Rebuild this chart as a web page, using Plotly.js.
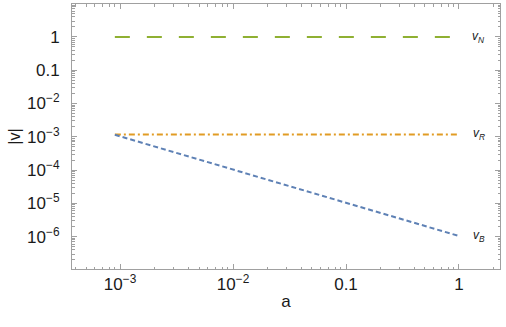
<!DOCTYPE html>
<html>
<head>
<meta charset="utf-8">
<script src="https://cdn.plot.ly/plotly-3.0.1.min.js"></script>
<style>
  html, body { margin: 0; padding: 0; background: #fff; }
  #myDiv { width: 506px; height: 327px; }
</style>
</head>
<body>
<div id="myDiv"></div>
<script>
// values
var aVals = [0.0009, 1];
var vN = [1, 1];
var vR = [0.00118, 0.00118];
var vB = [0.00115, 0.00000105];

var labelA = 1.5;
var labelN = 1;
var labelR = 0.00118;
var labelB = 0.00000105;

function pow10(e) {
  return '10<sup>\u2212' + e + '</sup>';
}

var xTickVals = [0.001, 0.01, 0.1, 1];
var xTickText = [pow10(3), pow10(2), '0.1', '1'];
var yTickVals = [1, 0.1, 0.01, 0.001, 0.0001, 0.00001, 0.000001];
var yTickText = ['1', '0.1', pow10(2), pow10(3), pow10(4), pow10(5), pow10(6)];

function minorVals(lo, hi) {
  var out = [];
  for (var e = lo; e <= hi; e++) {
    for (var m = 2; m <= 9; m++) out.push(m * Math.pow(10, e));
  }
  return out;
}

var trace1 = {
  x: aVals, y: vN, mode: 'lines', name: 'vN',
  line: { color: '#8fb032', width: 2, dash: '15px,17px' }
};
var trace2 = {
  x: aVals, y: vR, mode: 'lines', name: 'vR',
  line: { color: '#e19c24', width: 2, dash: '6px,3px,2px,3px' }
};
var trace3 = {
  x: aVals, y: vB, mode: 'lines', name: 'vB',
  line: { color: '#5e81b5', width: 2, dash: '5px,3px' }
};

var data = [trace1, trace2, trace3];

var font = 'Liberation Sans, Arial, sans-serif';

var axisCommon = {
  type: 'log',
  showgrid: false,
  zeroline: false,
  showline: true,
  linecolor: '#a0a0a0',
  linewidth: 1,
  mirror: 'allticks',
  ticks: 'inside',
  ticklen: 5,
  tickcolor: '#a0a0a0',
  tickmode: 'array',
  tickfont: { family: font, size: 17, color: '#1a1a1a' }
};

var layout = {
  width: 506,
  height: 327,
  margin: { l: 72, r: 6, t: 4, b: 58 },
  paper_bgcolor: '#fff',
  plot_bgcolor: '#fff',
  showlegend: false,
  xaxis: Object.assign({}, axisCommon, {
    range: [-3.425, 0.363],
    tickvals: xTickVals,
    ticktext: xTickText,
    ticklabelstandoff: 0,
    minor: { tickmode: 'array', tickvals: minorVals(-4, 0), ticks: 'inside', ticklen: 2.5, tickcolor: '#a0a0a0' },
    title: { text: 'a', font: { family: font, size: 17, color: '#1a1a1a' }, standoff: 1 }
  }),
  yaxis: Object.assign({}, axisCommon, {
    range: [-6.97, 0.99],
    tickvals: yTickVals,
    ticktext: yTickText,
    ticklabelstandoff: 8,
    minor: { tickmode: 'array', tickvals: minorVals(-7, 0), ticks: 'inside', ticklen: 2.5, tickcolor: '#a0a0a0' },
    title: { text: '|v|', font: { family: font, size: 16, color: '#1a1a1a' }, standoff: 2 }
  }),
  annotations: [
    { x: Math.log10(labelA), y: Math.log10(labelN), text: '<i>v</i><sub><i>N</i></sub>' },
    { x: Math.log10(labelA), y: Math.log10(labelR), text: '<i>v</i><sub><i>R</i></sub>' },
    { x: Math.log10(labelA), y: Math.log10(labelB), text: '<i>v</i><sub><i>B</i></sub>' }
  ].map(function (a) {
    return Object.assign(a, {
      xref: 'x', yref: 'y', showarrow: false,
      font: { family: font, size: 12, color: '#1a1a1a' }
    });
  })
};

Plotly.newPlot('myDiv', data, layout, { displayModeBar: false, staticPlot: true });
</script>
</body>
</html>
